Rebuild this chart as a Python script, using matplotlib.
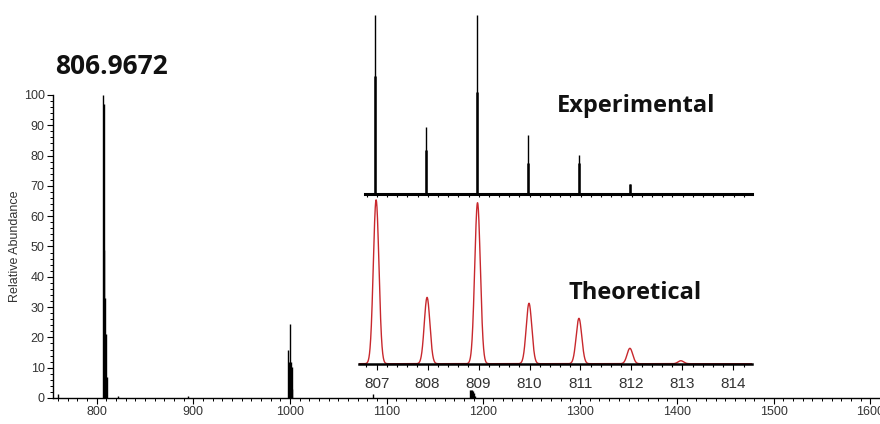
import numpy as np
import matplotlib
matplotlib.use('Agg')
from matplotlib import pyplot as plt
from matplotlib.ticker import MultipleLocator

# full scan spectrum (m/z, relative abundance)
main_mz = [760.0, 806.97, 807.6, 808.0, 808.97, 809.97, 810.97, 822.0, 894.5,
           997.6, 998.6, 999.6, 1000.6, 1001.6, 1002.6, 1086.0,
           1186.0, 1187.0, 1188.0, 1189.0, 1190.0, 1191.0]
main_int = [1.2, 100.0, 97.0, 49.0, 33.0, 21.0, 7.0, 0.6, 0.6,
            16.0, 12.0, 24.4, 12.0, 10.3, 3.0, 1.2,
            2.6, 2.8, 2.5, 2.2, 1.5, 0.8]

# zoomed isotope cluster, measured
exp_mz = [806.967, 807.970, 808.965, 809.968, 810.966, 811.968]
exp_int = [100.0, 37.1, 100.0, 32.7, 21.9, 5.6]
exp_core = [65.6, 24.7, 57.0, 17.3, 17.3, 5.6]

# zoomed isotope cluster, simulated
theo_mz = [806.99, 807.99, 808.98, 809.99, 810.97, 811.97, 812.97]
theo_int = [100.0, 40.5, 98.3, 36.9, 27.7, 9.4, 1.8]
theo_sigma = 0.055

iso_ticks = [807, 808, 809, 810, 811, 812, 813, 814]

W, H = 880, 424
fig = plt.figure(figsize=(W / 100, H / 100), dpi=100)


def box(x0, y0, x1, y1):
    # pixel box (top-left origin) -> figure fraction
    return [x0 / W, 1 - y1 / H, (x1 - x0) / W, (y1 - y0) / H]


# --- full spectrum ---
ax = fig.add_axes(box(53, 95, 880, 398))
ax.vlines(main_mz, 0, main_int, color='black', linewidth=1.0)
ax.set_xlim(755, 1610)
ax.set_ylim(0, 100)
ax.xaxis.set_major_locator(MultipleLocator(100))
ax.xaxis.set_minor_locator(MultipleLocator(10))
ax.yaxis.set_major_locator(MultipleLocator(10))
ax.yaxis.set_minor_locator(MultipleLocator(2))
for s in ['top', 'right']:
    ax.spines[s].set_visible(False)
for s in ['left', 'bottom']:
    ax.spines[s].set_linewidth(1.0)
ax.tick_params(which='major', direction='out', length=4, width=0.8, labelsize=9,
               labelcolor='#333333', pad=2)
ax.tick_params(which='minor', direction='out', length=2.5, width=0.7)
ax.set_ylabel('Relative Abundance', fontsize=9, color='#333333', labelpad=2)
for lbl in ax.get_xticklabels() + ax.get_yticklabels():
    lbl.set_family('Liberation Sans')
ax.yaxis.label.set_family('Liberation Sans')

# --- experimental inset ---
ax_e = fig.add_axes(box(365, 0, 752, 194))
ax_e.vlines(exp_mz, 0, exp_int, color='black', linewidth=1.0)
ax_e.vlines(exp_mz, 0, exp_core, color='black', linewidth=1.8)
ax_e.set_xlim(806.77, 814.36)
ax_e.set_ylim(0, 100 * 194 / 179.3)
ax_e.xaxis.set_major_locator(MultipleLocator(1))
ax_e.xaxis.set_minor_locator(MultipleLocator(0.2))
for s in ['top', 'right', 'left']:
    ax_e.spines[s].set_visible(False)
ax_e.spines['bottom'].set_linewidth(2.2)
ax_e.set_yticks([])
ax_e.tick_params(which='both', direction='out', length=2.5, width=0.8, labelbottom=False)
ax_e.patch.set_alpha(0)

# --- theoretical inset ---
ax_t = fig.add_axes(box(359.3, 196, 751.7, 363.7))
mz = np.linspace(806.66, 814.36, 3000)
profile = np.zeros_like(mz)
for c, h in zip(theo_mz, theo_int):
    profile += h * np.exp(-0.5 * ((mz - c) / theo_sigma) ** 2)
ax_t.plot(mz, profile, color='#c8282d', linewidth=1.0)
ax_t.set_xlim(806.66, 814.36)
ax_t.set_ylim(0, 102.4)
ax_t.set_xticks(iso_ticks)
ax_t.xaxis.set_minor_locator(MultipleLocator(0.2))
for s in ['top', 'right', 'left']:
    ax_t.spines[s].set_visible(False)
ax_t.spines['bottom'].set_linewidth(1.8)
ax_t.set_yticks([])
ax_t.tick_params(which='major', direction='out', length=4.5, width=0.8,
                 labelsize=11, labelcolor='#333333', pad=5)
ax_t.tick_params(which='minor', direction='out', length=2.5, width=0.8)
for lbl in ax_t.get_xticklabels():
    lbl.set_family('Liberation Sans')
ax_t.patch.set_alpha(0)

# --- annotations ---
bold = dict(family='Open Sans', weight='bold', color='#111111', ha='center', va='center')
fig.text(112 / W, 1 - 66 / H, '806.9672', fontsize=19, **bold)
fig.text(636 / W, 1 - 106 / H, 'Experimental', fontsize=17, **bold)
fig.text(635 / W, 1 - 293 / H, 'Theoretical', fontsize=17, **bold)

fig.savefig('out.png', dpi=100)
